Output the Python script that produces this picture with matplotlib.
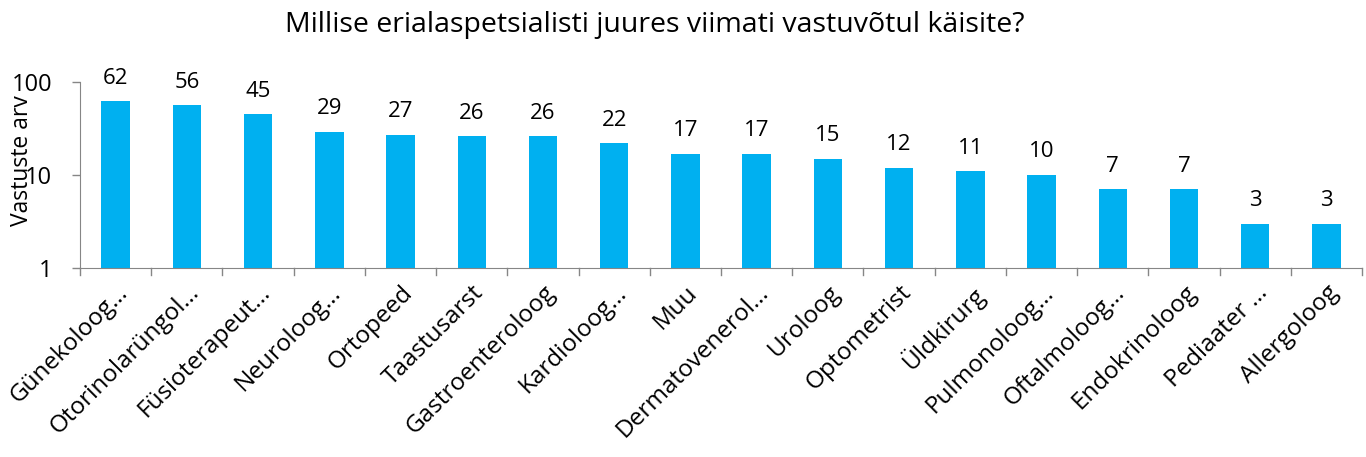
import matplotlib.pyplot as plt
import numpy as np

# Andmed
erialad = ["Günekoloog…", "Otorinolarüngol…", "Füsioterapeut…", "Neuroloog…", "Ortopeed",
           "Taastusarst", "Gastroenteroloog", "Kardioloog…", "Muu", "Dermatovenerol…",
           "Uroloog", "Optometrist", "Üldkirurg", "Pulmonoloog…", "Oftalmoloog…",
           "Endokrinoloog", "Pediaater …", "Allergoloog"]
vastused = [62, 56, 45, 29, 27, 26, 26, 22, 17, 17, 15, 12, 11, 10, 7, 7, 3, 3]

plt.rcParams['font.family'] = ['Open Sans', 'DejaVu Sans']

fig = plt.figure(figsize=(13.66, 4.57), dpi=100)
ax = fig.add_axes([0.0586, 0.4136, 0.9385, 0.407])

x = np.arange(len(erialad))
ax.bar(x, vastused, width=0.4, color="#00B0F0", zorder=2)
ax.set_yscale("log")
ax.set_ylim(1, 100)
ax.set_xlim(-0.5, len(erialad) - 0.5)

for xi, v in zip(x, vastused):
    ax.annotate(str(v), (xi, v), xytext=(0, 9), textcoords="offset points",
                ha="center", va="bottom", fontsize=16)

# teljed
for s in ["top", "right"]:
    ax.spines[s].set_visible(False)
for s in ["left", "bottom"]:
    ax.spines[s].set_color("#868686")
ax.set_yticks([1, 10, 100])
ax.set_yticklabels(["1", "10", "100"], fontsize=17)
ax.minorticks_off()
ax.tick_params(axis="y", colors="#868686", labelcolor="black", length=6, width=1, pad=14)

ax.set_xticks(x)
ax.set_xticklabels(erialad, rotation=45, ha="right", rotation_mode="anchor", fontsize=17.5)
ax.tick_params(axis="x", length=0, pad=9)
for edge in np.arange(-0.5, len(erialad), 1.0):
    ax.plot([edge, edge], [0, -0.04], transform=ax.get_xaxis_transform(),
            color="#868686", lw=1, clip_on=False)

ax.set_ylabel("Vastuste arv", fontsize=16.5)
ax.yaxis.set_label_coords(-0.036, 0.575)

fig.suptitle("Millise erialaspetsialisti juures viimati vastuvõtul käisite?",
             fontsize=20.5, x=0.4795, y=0.975)

fig.savefig("out.png", dpi=100)
